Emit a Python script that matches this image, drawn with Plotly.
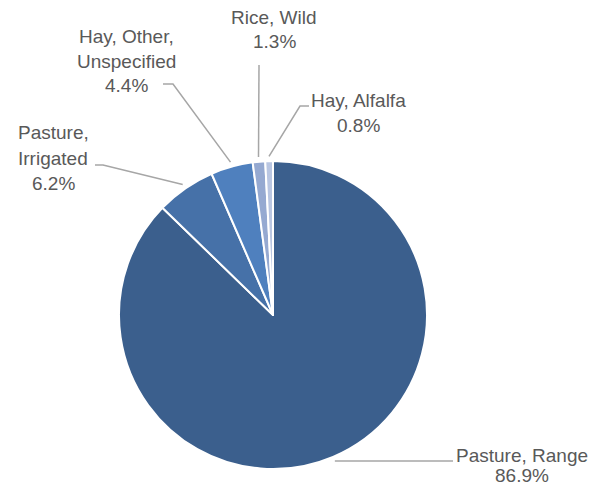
import math
import plotly.graph_objects as go

# ---- data ----
categories = ["Pasture, Range", "Pasture, Irrigated", "Hay, Other, Unspecified", "Rice, Wild", "Hay, Alfalfa"]
values = [86.9, 6.2, 4.4, 1.3, 0.8]
label_lines = [["Pasture, Range", "86.9%"],
               ["Pasture,", "Irrigated", "6.2%"],
               ["Hay, Other,", "Unspecified", "4.4%"],
               ["Rice, Wild", "1.3%"],
               ["Hay, Alfalfa", "0.8%"]]
colors = ["#3B5F8D", "#4671A8", "#4F80BE", "#95A9D1", "#B9C6E2"]

# ---- layout constants (window pixels) ----
OFF = 8  # page body margin
W, H = 598 - OFF, 490 - OFF
CX, CY, R = 273, 315, 154
# label block centre x, first line centre y, line spacing
label_pos = [(522, 455, 20), (53, 133, 25), (126, 36, 25), (274, 17, 25), (358, 100, 25)]
# leader line: label-side start, elbow
leader_pts = [((453, 461), (453, 461)),
              ((95, 165), (103, 165)),
              ((163, 84), (173, 84)),
              ((259, 65), (259, 65)),
              ((309, 106), (300, 106))]

def px(x):
    return (x - OFF) / W

def py(y):
    return 1 - (y - OFF) / H

fig = go.Figure(go.Pie(
    labels=categories, values=values, sort=False, direction="clockwise", rotation=0,
    marker=dict(colors=colors, line=dict(color="white", width=2)),
    textinfo="none", hoverinfo="label+percent", showlegend=False,
    domain=dict(x=[px(CX - R), px(CX + R)], y=[py(CY + R), py(CY - R)]),
))

total = sum(values)
cum = 0.0
shapes = []
annotations = []
for i, v in enumerate(values):
    mid = (cum + v / 2) / total * 2 * math.pi
    cum += v
    ex = CX + R * 1.03 * math.sin(mid)
    ey = CY - R * 1.03 * math.cos(mid)
    (sx, sy), (bx, by) = leader_pts[i]
    path = f"M {px(sx)},{py(sy)} L {px(bx)},{py(by)} L {px(ex)},{py(ey)}"
    shapes.append(dict(type="path", path=path, xref="paper", yref="paper",
                       line=dict(color="#A6A6A6", width=1.5)))
    lx, ly, lh = label_pos[i]
    for j, t in enumerate(label_lines[i]):
        annotations.append(dict(text=t, x=px(lx), y=py(ly + j * lh), xref="paper", yref="paper",
                                xanchor="center", yanchor="middle", showarrow=False,
                                font=dict(family="Liberation Sans", size=19, color="#595959")))

fig.update_layout(width=W, height=H, margin=dict(l=0, r=0, t=0, b=0),
                  paper_bgcolor="white", plot_bgcolor="white",
                  shapes=shapes, annotations=annotations)
fig.write_html("out.html")
